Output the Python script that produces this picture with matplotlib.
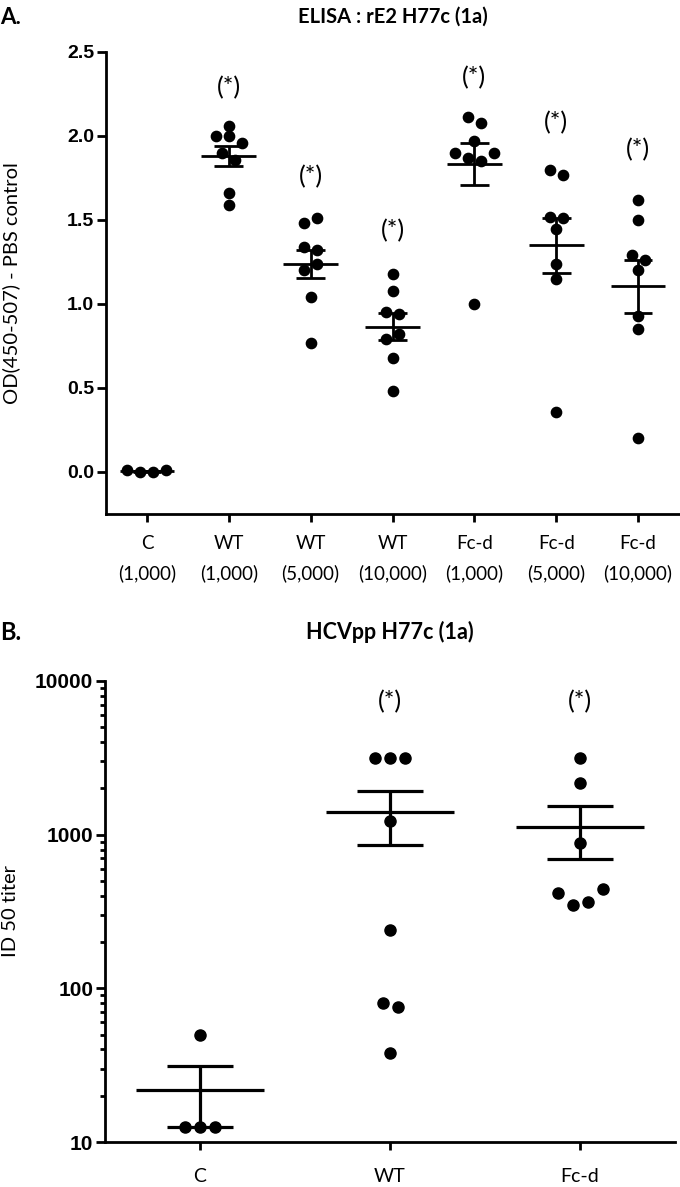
import numpy as np
import matplotlib
matplotlib.use("Agg")
import matplotlib.pyplot as plt
from matplotlib.ticker import FixedLocator, LogLocator, NullFormatter

# panel A: ELISA rE2 H77c, OD(450-507) minus PBS control
elisa_labels = ["C\n(1,000)", "WT\n(1,000)", "WT\n(5,000)", "WT\n(10,000)",
                "Fc-d\n(1,000)", "Fc-d\n(5,000)", "Fc-d\n(10,000)"]
c_1000 = [0.01, 0.0, 0.0, 0.01]
wt_1000 = [2.06, 2.0, 2.0, 1.96, 1.90, 1.86, 1.66, 1.59]
wt_5000 = [1.48, 1.51, 1.34, 1.32, 1.20, 1.24, 1.04, 0.77]
wt_10000 = [1.18, 1.08, 0.95, 0.94, 0.79, 0.82, 0.68, 0.48]
fcd_1000 = [2.115, 2.075, 1.97, 1.90, 1.87, 1.85, 1.90, 1.0]
fcd_5000 = [1.80, 1.77, 1.52, 1.51, 1.445, 1.24, 1.15, 0.36]
fcd_10000 = [1.62, 1.50, 1.29, 1.26, 1.20, 0.93, 0.85, 0.20]
elisa_data = [c_1000, wt_1000, wt_5000, wt_10000, fcd_1000, fcd_5000, fcd_10000]
elisa_star = [None, 2.29, 1.76, 1.435, 2.35, 2.08, 1.92]

# panel B: HCVpp H77c neutralisation, ID50 titer
hcv_labels = ["C", "WT", "Fc-d"]
hcv_c = [50, 12.5, 12.5, 12.5]
hcv_wt = [3170, 3170, 3170, 1230, 240, 80, 76, 38]
hcv_fcd = [3170, 2180, 880, 419, 349, 366, 441]
hcv_data = [hcv_c, hcv_wt, hcv_fcd]
hcv_star = [None, 7300, 7300]

W, H = 680, 1187
txt = ["Lato", "DejaVu Sans"]
num = ["Liberation Sans", "DejaVu Sans"]


def swarm(ax, xc, vals, gap_px, thr_px):
    # spread points sideways in rows, like a column scatter plot
    vals = np.asarray(vals, float)
    pts = np.column_stack([np.full(len(vals), xc), vals])
    ypx = ax.transData.transform(pts)[:, 1]
    unit = ax.transData.transform((1, 0))[0] - ax.transData.transform((0, 0))[0]
    order = np.argsort(-ypx, kind="stable")
    rows, cur = [], [order[0]]
    for i in order[1:]:
        if ypx[cur[-1]] - ypx[i] < thr_px:
            cur.append(i)
        else:
            rows.append(cur)
            cur = [i]
    rows.append(cur)
    xs = np.full(len(vals), float(xc))
    for r in rows:
        r = sorted(r)
        n = len(r)
        for k, i in enumerate(r):
            xs[i] = xc + (k - (n - 1) / 2) * gap_px / unit
    return xs


def mean_sem(ax, xc, vals, lw):
    v = np.asarray(vals, float)
    m = v.mean()
    s = v.std(ddof=1) / np.sqrt(len(v))
    ax.hlines(m, xc - 0.335, xc + 0.335, color="black", lw=lw, zorder=2)
    ax.vlines(xc, m - s, m + s, color="black", lw=lw, zorder=2)
    ax.hlines([m - s, m + s], xc - 0.175, xc + 0.175, color="black", lw=lw, zorder=2)


def style(ax):
    for sp in ["top", "right"]:
        ax.spines[sp].set_visible(False)
    for sp in ["left", "bottom"]:
        ax.spines[sp].set_linewidth(2.0)
    ax.tick_params(axis="both", which="major", direction="out", length=6.5, width=2.0, pad=2)
    ax.tick_params(axis="x", which="major", length=6)


fig = plt.figure(figsize=(W / 100, H / 100), dpi=100)

# ---- panel A
axA = fig.add_axes([106 / W, 1 - 514 / H, (679 - 106) / W, (514 - 52) / H])
style(axA)
axA.set_xlim(-0.5, 6.5)
axA.set_ylim(-0.25, 2.5)
axA.set_yticks([0.0, 0.5, 1.0, 1.5, 2.0, 2.5])
axA.set_yticklabels(["0.0", "0.5", "1.0", "1.5", "2.0", "2.5"],
                    family=num, fontweight="bold", fontsize=14)
axA.set_xticks(range(len(elisa_labels)))
axA.set_xticklabels(elisa_labels, family=txt, fontsize=13.5, linespacing=1.8)
axA.tick_params(axis="x", pad=9)

for i, vals in enumerate(elisa_data):
    xs = swarm(axA, i, vals, 13, 7.5)
    axA.plot(xs, vals, "o", color="black", ms=7.4, mec="black", zorder=3, clip_on=False)
    mean_sem(axA, i, vals, 2.0)
    if elisa_star[i] is not None:
        axA.text(i, elisa_star[i], "(*)", ha="center", va="center",
                 family=txt, fontsize=18)

fig.text(393 / W, 1 - 17 / H, "ELISA : rE2 H77c (1a)", ha="center", va="center",
         family=txt, fontweight="bold", fontsize=14.5)
fig.text(0, 1 - 17 / H, "A.", ha="left", va="center", family=txt,
         fontweight="bold", fontsize=16)
fig.text(11 / W, 1 - 283 / H, "OD(450-507) - PBS control", rotation=90,
         ha="center", va="center", family=txt, fontsize=14.5)

# ---- panel B
axB = fig.add_axes([105 / W, 1 - 1142 / H, (675 - 105) / W, (1142 - 681) / H])
style(axB)
axB.set_yscale("log")
axB.set_xlim(-0.5, 2.5)
axB.set_ylim(10, 10000)
axB.yaxis.set_major_locator(FixedLocator([10, 100, 1000, 10000]))
axB.yaxis.set_minor_locator(LogLocator(base=10, subs=np.arange(2, 10)))
axB.yaxis.set_minor_formatter(NullFormatter())
axB.set_yticklabels(["10", "100", "1000", "10000"], family=num,
                    fontweight="bold", fontsize=15)
axB.tick_params(axis="y", which="minor", length=3.5, width=2.0)
axB.set_xticks(range(len(hcv_labels)))
axB.set_xticklabels(hcv_labels, family=txt, fontsize=14)
axB.tick_params(axis="x", pad=13)

for i, vals in enumerate(hcv_data):
    xs = swarm(axB, i, vals, 15, 9.5)
    axB.plot(xs, vals, "o", color="black", ms=8.0, mec="black", zorder=3, clip_on=False)
    mean_sem(axB, i, vals, 2.3)
    if hcv_star[i] is not None:
        axB.text(i, hcv_star[i], "(*)", ha="center", va="center",
                 family=txt, fontsize=18)

fig.text(390 / W, 1 - 632 / H, "HCVpp H77c (1a)", ha="center", va="center",
         family=txt, fontweight="bold", fontsize=15.5)
fig.text(0, 1 - 632 / H, "B.", ha="left", va="center", family=txt,
         fontweight="bold", fontsize=17)
fig.text(11 / W, 1 - 911 / H, "ID 50 titer", rotation=90,
         ha="center", va="center", family=txt, fontsize=14.5)

fig.savefig("out.png", dpi=100)
